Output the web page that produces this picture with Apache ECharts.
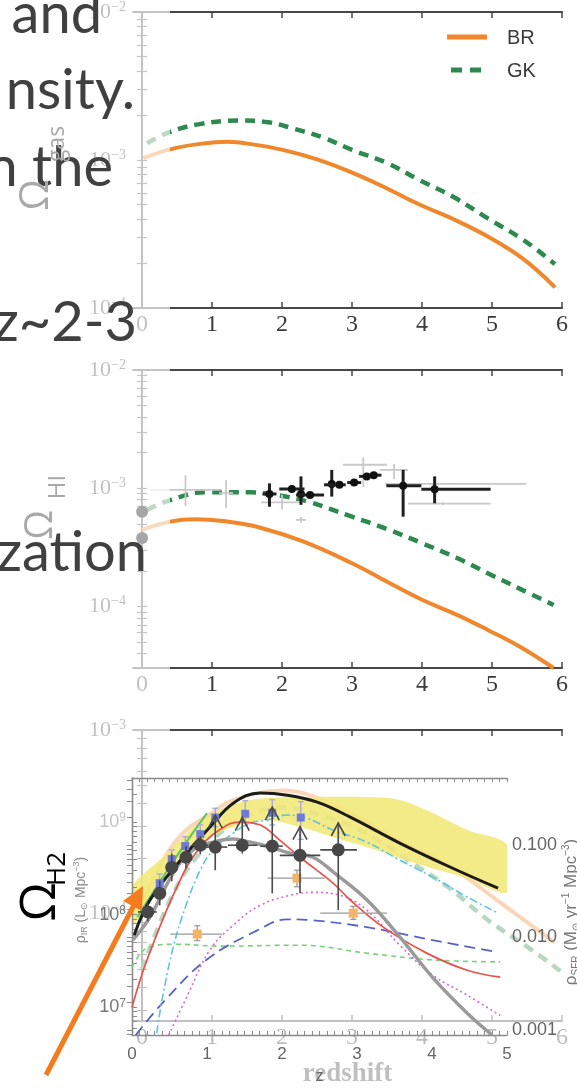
<!DOCTYPE html>
<html><head><meta charset="utf-8">
<script src="https://cdn.jsdelivr.net/npm/echarts@6/dist/echarts.min.js"></script>
<style>html,body{margin:0;padding:0;background:#fff}#c{width:577px;height:1089px}</style>
</head><body><div id="c"></div>
<script>
// ================= DATA =================
const zTicksMain = [0, 1, 2, 3, 4, 5, 6];
const zTicksInset = [0, 1, 2, 3, 4, 5];
const mainPowers = [[1e-4, 1e-3, 1e-2], [1e-4, 1e-3, 1e-2], [1e-4, 1e-3]];
const insetLeftTicks = [1e7, 1e8, 1e9];
const insetRightTicks = [0.001, 0.01, 0.1];
const textLines = ['and', 'nsity.', 'n the', 'z~2-3', 'zation'];
const legendNames = ['BR', 'GK'];

// panel 1: Omega_gas
const gasBR = [[0.02,1.03e-3],[0.40,1.18e-3],[0.8,1.28e-3],[1.22,1.33e-3],[1.6,1.27e-3],[2.01,1.17e-3],[2.5,1.01e-3],[2.95,8.41e-4],[3.45,6.6e-4],[3.94,5.06e-4],[4.45,3.98e-4],[4.94,3.04e-4],[5.45,2.14e-4],[5.90,1.38e-4]];
const gasGK = [[0.07,1.30e-3],[0.40,1.55e-3],[0.8,1.74e-3],[1.38,1.85e-3],[1.8,1.80e-3],[2.16,1.63e-3],[2.6,1.41e-3],[3.0,1.17e-3],[3.5,9.55e-4],[3.94,7.41e-4],[4.45,5.62e-4],[4.94,4.03e-4],[5.45,2.88e-4],[5.9,1.98e-4]];
// panel 2: Omega_HI
const hiBR = [[0.0,4.45e-4],[0.40,5.22e-4],[0.75,5.47e-4],[1.2,5.25e-4],[1.64,4.73e-4],[2.3,3.55e-4],[3.0,2.32e-4],[3.5,1.62e-4],[4.0,1.14e-4],[4.5,8.5e-5],[4.94,6.34e-5],[5.4,4.57e-5],[5.88,3.02e-5]];
const hiGK = [[0.07,6.56e-4],[0.40,7.94e-4],[0.91,9.25e-4],[1.54,9.25e-4],[1.95,8.71e-4],[2.37,7.71e-4],[3.0,5.75e-4],[3.5,4.52e-4],[4.0,3.43e-4],[4.5,2.57e-4],[4.94,1.91e-4],[5.4,1.41e-4],[5.88,1.03e-4]];
// observations in panel 2: [z, value, zLow, zHigh, vLow, vHigh]
const hiObsDark = [
  [1.82,8.95e-4,1.72,1.92,6.98e-4,1.10e-3],
  [2.14,9.86e-4,1.96,2.32,9.5e-4,1.02e-3],
  [2.27,8.95e-4,2.22,2.32,7.24e-4,1.26e-3],
  [2.40,8.77e-4,2.20,2.60,8.4e-4,9.1e-4],
  [2.71,1.087e-3,2.66,2.76,8.5e-4,1.43e-3],
  [2.82,1.07e-3,2.60,2.91,1.04e-3,1.10e-3],
  [3.03,1.117e-3,2.93,3.13,1.07e-3,1.17e-3],
  [3.21,1.26e-3,3.10,3.35,1.20e-3,1.32e-3],
  [3.31,1.29e-3,3.25,3.42,1.23e-3,1.36e-3],
  [3.73,1.05e-3,3.49,3.99,5.75e-4,1.43e-3],
  [4.18,9.8e-4,3.99,4.98,7.46e-4,1.26e-3]
];
const hiObsGray = [
  [0.62,9.68e-4,0.11,1.14,7.08e-4,1.29e-3],
  [1.20,9.12e-4,1.10,1.30,6.76e-4,1.17e-3],
  [4.48,1.087e-3,3.47,5.49,1.07e-3,1.10e-3],
  [3.16,1.58e-3,2.87,3.50,1.02e-3,1.82e-3],
  [3.60,1.43e-3,3.40,3.80,1.20e-3,1.60e-3],
  [2.27,5.4e-4,2.20,2.34,5.1e-4,5.7e-4],
  [4.30,7.4e-4,3.80,4.98,7.2e-4,7.6e-4],
  [2.00,7.6e-4,1.70,2.30,6.6e-4,8.8e-4]
];
const hiLocal = [[0.0,6.34e-4,0.0,0.0,5.8e-4,6.9e-4],[0.0,3.8e-4,0.0,0.0,3.55e-4,4.05e-4]];
// panel 3: Omega_H2
const h2BR = [[0.0,1.12e-4],[0.26,1.83e-4],[0.58,2.74e-4],[0.97,3.48e-4],[1.29,4.13e-4],[2.0,4.68e-4],[2.8,3.80e-4],[3.67,2.48e-4],[4.38,1.83e-4],[5.09,1.17e-4],[5.9,6.95e-5]];
const h2GK = [[0.0,5.0e-5],[0.5,1.41e-4],[1.0,2.51e-4],[1.5,3.39e-4],[2.0,3.79e-4],[2.63,3.36e-4],[3.2,2.74e-4],[3.91,1.83e-4],[4.38,1.39e-4],[4.95,9.18e-5],[5.56,6.38e-5],[5.99,4.83e-5]];

// inset: IR luminosity density (L_sun Mpc^-3)
const insBlack = [[0.03,6.03e7],[0.24,1.44e8],[0.68,4.17e8],[1.04,8.83e8],[1.35,1.60e9],[1.71,2.06e9],[2.07,1.95e9],[2.47,1.64e9],[2.91,1.13e9],[3.57,5.93e8],[4.24,3.27e8],[4.88,1.93e8]];
const insGray = [[0.01,5.30e7],[0.24,9.40e7],[0.55,2.81e8],[0.81,4.98e8],[1.08,6.08e8],[1.35,6.55e8],[1.57,6.08e8],[1.84,5.37e8],[2.11,4.62e8],[2.41,4.17e8],[2.68,2.90e8],[3.13,1.45e8],[3.57,5.75e7],[4.01,2.09e7],[4.47,8.61e6],[4.8,5.01e6]];
const insRed = [[0.0,1.0e7],[0.2,3.24e7],[0.6,2.0e8],[0.91,5.37e8],[1.27,9.29e8],[1.44,1.0e9],[1.71,9.29e8],[1.97,6.38e8],[2.24,4.17e8],[2.68,2.19e8],[2.91,1.44e8],[3.35,7.33e7],[3.93,3.84e7],[4.47,2.51e7],[4.91,2.11e7]];
const insCyan = [[0.33,5.25e6],[0.4,1.19e7],[0.55,4.46e7],[0.73,1.33e8],[0.91,3.03e8],[1.08,4.98e8],[1.35,7.60e8],[1.57,9.75e8],[1.8,1.05e9],[2.07,1.19e9],[2.33,1.10e9],[2.68,8.20e8],[3.13,6.08e8],[3.57,3.88e8],[4.01,2.54e8],[4.47,1.55e8],[4.88,1.04e8]];
const insMagenta = [[0.49,5.01e6],[0.77,1.51e7],[1.04,4.17e7],[1.35,7.69e7],[1.71,1.26e8],[2.11,1.62e8],[2.4,1.74e8],[2.77,1.62e8],[3.13,1.12e8],[3.57,4.68e7],[4.01,2.22e7],[4.47,1.35e7],[4.91,8.13e6]];
const insBlue = [[0.05,5.01e6],[0.44,1.19e7],[0.99,3.24e7],[1.67,6.76e7],[2.07,8.91e7],[2.4,8.71e7],[3.13,7.33e7],[4.01,5.30e7],[4.87,3.94e7]];
const insGreenDash = [[0.0,2.70e7],[0.2,4.35e7],[0.59,4.79e7],[1.19,4.57e7],[2.24,4.68e7],[3.13,3.84e7],[4.01,3.24e7],[4.91,3.09e7]];
const insGreenSolid = [[0.07,9.4e7],[0.47,3.0e8],[0.75,6.5e8],[1.0,1.25e9]];
const bandUpper = [[0,1.98e8],[0.37,3.89e8],[0.73,7.59e8],[1.08,1.25e9],[1.44,1.64e9],[1.8,1.82e9],[2.24,1.86e9],[3.13,1.86e9],[3.57,1.73e9],[4.01,1.25e9],[4.47,8.20e8],[5.0,5.64e8]];
const bandLower = [[0,7.69e7],[0.47,2.54e8],[0.91,5.93e8],[1.35,8.83e8],[1.8,1.05e9],[2.24,8.83e8],[2.68,6.89e8],[3.13,5.37e8],[3.57,4.07e8],[4.01,3.16e8],[4.47,2.48e8],[5.0,1.75e8]];
// [z, value, zLow, zHigh, vLow, vHigh, arrowTip]
const insObsBlack = [
  [0.21,1.07e8,0.08,0.33,8.5e7,1.32e8,0],
  [0.37,1.70e8,0.30,0.44,1.26e8,2.34e8,0],
  [0.53,3.24e8,0.46,0.60,2.29e8,4.57e8,0],
  [0.72,4.17e8,0.64,0.80,3.16e8,5.50e8,0],
  [0.91,5.62e8,0.80,1.02,4.47e8,7.08e8,0],
  [1.11,5.37e8,0.95,1.27,3.02e8,5.37e8,1.19e9],
  [1.47,5.62e8,1.28,1.67,4.57e8,5.62e8,1.12e9],
  [1.87,5.50e8,1.71,2.01,1.70e8,5.50e8,1.45e9],
  [2.24,4.37e8,1.97,2.51,1.70e8,4.37e8,8.91e8],
  [2.75,5.01e8,2.51,3.00,1.12e8,5.01e8,9.77e8]
];
const insObsBlue = [
  [0.37,2.19e8,0.37,0.37,1.75e8,2.75e8],
  [0.53,3.98e8,0.53,0.53,3.16e8,5.01e8],
  [0.71,5.50e8,0.71,0.71,4.37e8,6.92e8],
  [0.91,7.41e8,0.91,0.91,5.89e8,9.33e8],
  [1.11,1.12e9,1.11,1.11,8.9e8,1.41e9],
  [1.51,1.23e9,1.51,1.51,9.1e8,1.70e9],
  [1.87,1.26e9,1.87,1.87,9.3e8,1.74e9],
  [2.25,1.12e9,2.25,2.25,6.5e8,1.66e9]
];
const insObsOrange = [
  [0.87,6.17e7,0.51,1.20,5.25e7,7.59e7],
  [2.20,2.48e8,1.81,2.57,2.00e8,3.02e8],
  [2.95,1.04e8,2.51,3.40,8.9e7,1.23e8]
];

// ================= HELPERS =================
function logTicks(lo, hi) {
  const out = [];
  for (let e = Math.floor(Math.log10(lo)); e <= Math.ceil(Math.log10(hi)); e++) {
    for (let m = 1; m < 10; m++) {
      const v = m * Math.pow(10, e);
      if (v >= lo * 0.9999 && v <= hi * 1.0001) out.push(v);
    }
  }
  return out;
}
function supLabel(v) {
  const e = Math.round(Math.log10(v));
  return '{b|10}{s|' + (e < 0 ? '−' + (-e) : e) + '}';
}
function range(a, b, s) { const o = []; for (let v = a; v <= b + 1e-9; v += s) o.push(+v.toFixed(2)); return o; }

const FRAME = '#474747';
const grids = [
  {left: 133, top: 6, width: 429, height: 302},
  {left: 133, top: 370, width: 429, height: 298},
  {left: 133, top: 730, width: 429, height: 301},
  {left: 132, top: 778, width: 375, height: 257}
];
const yExt = [[1e-4, 1e-2], [Math.pow(10, -4.52), 1e-2], [Math.pow(10, -4.584), 1e-3]];

const xAxes = [], yAxes = [];
for (let i = 0; i < 3; i++) {
  const base = {gridIndex: i, type: 'value', min: -0.13, max: 6, splitLine: {show: false},
    axisLine: {lineStyle: {color: FRAME, width: 2}},
    axisTick: {inside: true, length: 6, customValues: zTicksMain, lineStyle: {color: FRAME, width: 1.5}}};
  xAxes.push(Object.assign({}, base, {position: 'bottom',
    axisLabel: {customValues: zTicksMain, margin: 5, fontFamily: 'Liberation Serif', fontSize: 24, color: '#3a3a3a'},
    name: i === 2 ? 'redshift' : '', nameLocation: 'middle', nameGap: 40,
    nameTextStyle: {fontFamily: 'Liberation Serif', fontSize: 27, fontWeight: 'bold', color: '#444'}}));
  xAxes.push(Object.assign({}, base, {position: 'top', axisLabel: {show: false}}));
  const yb = {gridIndex: i, type: 'log', logBase: 10, min: yExt[i][0], max: yExt[i][1], splitLine: {show: false},
    axisLine: {lineStyle: {color: FRAME, width: 2}},
    axisTick: {inside: true, length: 5, customValues: logTicks(yExt[i][0], yExt[i][1]), lineStyle: {color: FRAME, width: 1.2}}};
  yAxes.push(Object.assign({}, yb, {position: 'left',
    axisLabel: {customValues: mainPowers[i], formatter: supLabel, margin: 7, color: '#3a3a3a',
      rich: {b: {fontFamily: 'Liberation Serif', fontSize: 22, lineHeight: 24, color: '#3a3a3a'},
             s: {fontFamily: 'Liberation Serif', fontSize: 14, lineHeight: 14, verticalAlign: 'top', color: '#3a3a3a'}}}}));
  yAxes.push(Object.assign({}, yb, {position: 'right', axisLabel: {show: false}}));
}
// inset axes
const INS = '#8a8a8a';
const insX = {gridIndex: 3, type: 'value', min: 0, max: 5, z: 22, splitLine: {show: false},
  axisLine: {lineStyle: {color: INS, width: 1.3}},
  axisTick: {inside: true, length: 4, customValues: range(0, 5, 0.1), lineStyle: {color: INS, width: 1}}};
xAxes.push(Object.assign({}, insX, {position: 'bottom',
  axisLabel: {customValues: zTicksInset, margin: 11, fontFamily: 'Liberation Sans', fontSize: 17, color: '#666'},
  name: 'z', nameLocation: 'middle', nameGap: 34, nameTextStyle: {fontFamily: 'Liberation Sans', fontSize: 16, color: '#666'}}));
xAxes.push(Object.assign({}, insX, {position: 'top', axisLabel: {show: false}}));
const lExt = [Math.pow(10, 6.70), Math.pow(10, 9.476)];
const rExt = [Math.pow(10, -3.054), Math.pow(10, -0.276)];
yAxes.push({gridIndex: 3, type: 'log', logBase: 10, min: lExt[0], max: lExt[1], position: 'left', z: 22,
  splitLine: {show: false}, axisLine: {lineStyle: {color: INS, width: 1.3}},
  axisTick: {inside: true, length: 5, customValues: logTicks(lExt[0], lExt[1]), lineStyle: {color: INS, width: 1}},
  axisLabel: {customValues: insetLeftTicks, margin: 6,
    formatter: v => { const e = Math.round(Math.log10(v)); return e === 9 ? '{l|10}{ls|9}' : '{b|10}{bs|' + e + '}'; },
    rich: {b: {fontFamily: 'Liberation Sans', fontSize: 18, lineHeight: 20, color: '#777'},
           bs: {fontFamily: 'Liberation Sans', fontSize: 12, lineHeight: 12, verticalAlign: 'top', color: '#777'},
           l: {fontFamily: 'Liberation Sans', fontSize: 18, lineHeight: 20, color: '#c4c4c4'},
           ls: {fontFamily: 'Liberation Sans', fontSize: 12, lineHeight: 12, verticalAlign: 'top', color: '#c4c4c4'}}}});
yAxes.push({gridIndex: 3, type: 'log', logBase: 10, min: rExt[0], max: rExt[1], position: 'right', z: 22,
  splitLine: {show: false}, axisLine: {lineStyle: {color: INS, width: 1.3}},
  axisTick: {inside: true, length: 5, customValues: logTicks(rExt[0], rExt[1]), lineStyle: {color: INS, width: 1}},
  axisLabel: {customValues: insetRightTicks, margin: 5, formatter: v => v.toFixed(3),
    fontFamily: 'Liberation Sans', fontSize: 18, color: '#666'}});

// ================= SERIES =================
const ORANGE = '#f0872c', GREEN = '#2d8a4e';
const series = [];
function curve(name, data, gi, style, z) {
  series.push({type: 'line', name: name, data: data, xAxisIndex: gi * 2, yAxisIndex: gi * 2,
    smooth: 0.4, symbol: 'none', showSymbol: false, silent: true, z: z || 2, lineStyle: style, clip: true});
}
const brStyle = {color: ORANGE, width: 4};
const gkStyle = {color: GREEN, width: 4.5, type: [10, 7]};
[[gasBR, gasGK], [hiBR, hiGK], [h2BR, h2GK]].forEach((p, gi) => {
  curve('BR', p[0], gi, brStyle);
  curve('GK', p[1], gi, gkStyle);
});

function errSeries(data, gi, st, z) {
  series.push({type: 'custom', xAxisIndex: gi * 2, yAxisIndex: gi * 2, z: z, silent: true, clip: true,
    dimensions: ['z', 'v', 'z0', 'z1', 'v0', 'v1', 'a'], encode: {x: 0, y: 1}, data: data,
    renderItem: function (params, api) {
      const x = api.value(0), y = api.value(1);
      const p = api.coord([x, y]);
      const pl = api.coord([api.value(2), y]), pr = api.coord([api.value(3), y]);
      const pb = api.coord([x, api.value(4)]), pt = api.coord([x, api.value(5)]);
      const ls = {stroke: st.bar, lineWidth: st.bw};
      const ch = [];
      if (pr[0] - pl[0] > 0.5) ch.push({type: 'line', shape: {x1: pl[0], y1: p[1], x2: pr[0], y2: p[1]}, style: ls});
      ch.push({type: 'line', shape: {x1: p[0], y1: pb[1], x2: p[0], y2: pt[1]}, style: ls});
      if (st.cap) {
        ch.push({type: 'line', shape: {x1: p[0] - st.cap, y1: pb[1], x2: p[0] + st.cap, y2: pb[1]}, style: ls});
        ch.push({type: 'line', shape: {x1: p[0] - st.cap, y1: pt[1], x2: p[0] + st.cap, y2: pt[1]}, style: ls});
      }
      const a = api.value(6);
      if (a && a > 0) {
        const pa = api.coord([x, a]);
        ch.push({type: 'line', shape: {x1: p[0], y1: pa[1], x2: p[0], y2: p[1]}, style: ls});
        ch.push({type: 'polyline', shape: {points: [[p[0] - 7, pa[1] + 13], [p[0], pa[1]], [p[0] + 7, pa[1] + 13]]}, style: {stroke: st.bar, lineWidth: st.bw, fill: null}});
      }
      if (st.marker === 'circle') ch.push({type: 'circle', shape: {cx: p[0], cy: p[1], r: st.r}, style: {fill: st.fill}});
      if (st.marker === 'square') ch.push({type: 'rect', shape: {x: p[0] - st.r, y: p[1] - st.r, width: 2 * st.r, height: 2 * st.r}, style: {fill: st.fill}});
      return {type: 'group', children: ch};
    }});
}
errSeries(hiObsGray, 1, {bar: '#c9c9c9', bw: 1.8}, 3);
errSeries(hiObsDark, 1, {bar: '#202020', bw: 3, marker: 'circle', r: 4, fill: '#111'}, 4);
errSeries(hiLocal, 1, {bar: '#a6a6a6', bw: 2, marker: 'circle', r: 6, fill: '#a6a6a6'}, 12);

// inset
function icurve(data, style, z) {
  series.push({type: 'line', data: data, xAxisIndex: 6, yAxisIndex: 6, smooth: 0.4, symbol: 'none',
    silent: true, z: z, lineStyle: style, clip: true});
}
series.push({type: 'custom', xAxisIndex: 6, yAxisIndex: 6, z: 21, silent: true, clip: true,
  data: bandUpper, encode: {x: 0, y: 1},
  renderItem: function (params, api) {
    if (params.dataIndex !== 0) return null;
    const pts = bandUpper.map(d => api.coord(d)).concat(bandLower.slice().reverse().map(d => api.coord(d)));
    return {type: 'polygon', shape: {points: pts, smooth: 0.3}, style: {fill: '#f1e777', opacity: 0.88}};
  }});
icurve(insGreenDash, {color: '#74d474', width: 1.6, type: [5, 4]}, 22);
icurve(insBlue, {color: '#5a62c6', width: 1.8, type: [11, 6]}, 22);
icurve(insMagenta, {color: '#d46ad4', width: 1.6, type: [2, 3]}, 22);
icurve(insCyan, {color: '#5ec6da', width: 1.6, type: [8, 3, 2, 3]}, 22);
icurve(insRed, {color: '#e8524b', width: 1.7}, 23);
icurve(insGreenSolid, {color: '#5cc65c', width: 2}, 23);
icurve(insGray, {color: '#9a9a9a', width: 3.5}, 23);
icurve(insBlack, {color: '#1c1c1c', width: 3}, 24);
errSeries(insObsOrange, 3, {bar: '#9a9a9a', bw: 1.3, cap: 3, marker: 'square', r: 4.5, fill: '#f3b467'}, 25);
errSeries(insObsBlue, 3, {bar: '#a2a8e4', bw: 1.3, cap: 3, marker: 'square', r: 4, fill: '#6f7bd6'}, 25);
errSeries(insObsBlack, 3, {bar: '#4a4a4a', bw: 1.6, marker: 'circle', r: 6.5, fill: '#474747'}, 26);

// ================= GRAPHIC =================
const tx = [102, 135, 113, 137, 147];
const baselines = [35, 111, 188, 343, 573];
const graphic = [
  {type: 'rect', z: 10, silent: true, shape: {x: 0, y: 0, width: 170, height: 767}, style: {fill: 'rgba(255,255,255,0.68)'}},
  {type: 'rect', z: 10, silent: true, shape: {x: 66, y: 767, width: 511, height: 322}, style: {fill: 'rgba(255,255,255,0.66)'}}
];
textLines.forEach((t, i) => {
  graphic.push({type: 'text', z: 40, x: tx[i], y: baselines[i] - 20, silent: true,
    style: {text: t, fontFamily: 'Lato', fontSize: 56, fill: '#404040', align: 'right', verticalAlign: 'middle'}});
});
function rot(text, x, y, size, color, family) {
  graphic.push({type: 'text', z: 40, x: x, y: y, rotation: Math.PI / 2, silent: true,
    style: {text: text, fontFamily: family || 'Open Sans', fontSize: size, fill: color, align: 'center', verticalAlign: 'middle'}});
}
rot('Ω', 37, 195, 40, '#a9a9a9');
rot('gas', 57, 144, 23, '#a9a9a9');
rot('Ω', 41, 525, 38, '#a9a9a9');
rot('HI', 58, 487, 24, '#a9a9a9');
rot('Ω', 41, 902, 50, '#000');
rot('H2', 58, 869, 26, '#000');
// legend of the top panel
graphic.push({type: 'line', z: 5, silent: true, shape: {x1: 447, y1: 37, x2: 487, y2: 37}, style: {stroke: ORANGE, lineWidth: 5}});
graphic.push({type: 'line', z: 5, silent: true, shape: {x1: 451, y1: 70, x2: 488, y2: 70}, style: {stroke: GREEN, lineWidth: 5, lineDash: [11, 8]}});
legendNames.forEach((n, i) => {
  graphic.push({type: 'text', z: 5, x: 507, y: 38 + 33 * i, silent: true,
    style: {text: n, fontFamily: 'Liberation Sans', fontSize: 20, fill: '#3a3a3a', align: 'left', verticalAlign: 'middle'}});
});
// inset axis titles
graphic.push({type: 'text', z: 40, x: 81, y: 900, rotation: Math.PI / 2, silent: true,
  style: {text: '{a|ρ}{s|IR}{a| (L}{s|⊙}{a| Mpc}{p|−3}{a|)}', align: 'center', verticalAlign: 'middle',
    rich: {a: {fontFamily: 'Liberation Sans', fontSize: 14, fill: '#8a8a8a', lineHeight: 17},
           s: {fontFamily: 'Liberation Sans', fontSize: 9, fill: '#8a8a8a', lineHeight: 9, verticalAlign: 'bottom'},
           p: {fontFamily: 'Liberation Sans', fontSize: 9, fill: '#8a8a8a', lineHeight: 9, verticalAlign: 'top'}}}});
graphic.push({type: 'text', z: 40, x: 571, y: 912, rotation: Math.PI / 2, silent: true,
  style: {text: '{a|ρ}{s|SFR}{a| (M}{s|⊙}{a| yr}{p|−1}{a| Mpc}{p|−3}{a|)}', align: 'center', verticalAlign: 'middle',
    rich: {a: {fontFamily: 'Liberation Sans', fontSize: 17, fill: '#777', lineHeight: 20},
           s: {fontFamily: 'Liberation Sans', fontSize: 10, fill: '#777', lineHeight: 10, verticalAlign: 'bottom'},
           p: {fontFamily: 'Liberation Sans', fontSize: 10, fill: '#777', lineHeight: 10, verticalAlign: 'top'}}}});
// orange pointer arrow
graphic.push({type: 'line', z: 41, silent: true, shape: {x1: 46, y1: 1075, x2: 134, y2: 905}, style: {stroke: '#f47b1e', lineWidth: 5}});
graphic.push({type: 'polygon', z: 41, silent: true, shape: {points: [[143, 886], [123, 901], [142, 911]]}, style: {fill: '#f47b1e'}});

const option = {
  animation: false,
  backgroundColor: '#ffffff',
  grid: grids,
  xAxis: xAxes,
  yAxis: yAxes,
  series: series,
  graphic: {elements: graphic}
};
const chart = echarts.init(document.getElementById('c'));
chart.setOption(option);
</script>
</body></html>
